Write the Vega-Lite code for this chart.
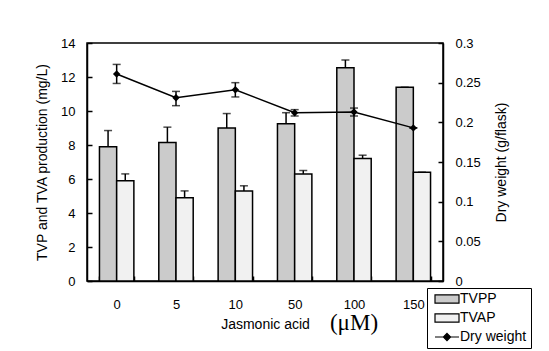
{
  "$schema": "https://vega.github.io/schema/vega-lite/v6.json",
  "width": 356,
  "height": 238,
  "autosize": {"type": "none"},
  "padding": {"left": 87, "top": 43, "right": 106, "bottom": 70},
  "background": "white",
  "title": {
    "text": "(μM)", "orient": "bottom", "anchor": "middle", "dx": 89, "offset": -37,
    "font": "Liberation Serif", "fontSize": 23, "fontWeight": "normal", "color": "black"
  },
  "config": {
    "font": "Liberation Sans",
    "view": {"stroke": "black", "strokeWidth": 1.5},
    "axis": {
      "domainColor": "black", "domainWidth": 1.5,
      "tickColor": "black", "tickWidth": 1.5,
      "labelColor": "black", "titleColor": "black",
      "labelFontSize": 13, "titleFontSize": 14, "titleFontWeight": "normal",
      "grid": false, "labelOverlap": false
    }
  },
  "datasets": {
    "bars": [
      {"conc": "0", "series": "TVPP", "value": 7.9, "upper": 8.85},
      {"conc": "0", "series": "TVAP", "value": 5.9, "upper": 6.3},
      {"conc": "5", "series": "TVPP", "value": 8.15, "upper": 9.05},
      {"conc": "5", "series": "TVAP", "value": 4.9, "upper": 5.3},
      {"conc": "10", "series": "TVPP", "value": 9.0, "upper": 9.85},
      {"conc": "10", "series": "TVAP", "value": 5.3, "upper": 5.6},
      {"conc": "50", "series": "TVPP", "value": 9.25, "upper": 9.9},
      {"conc": "50", "series": "TVAP", "value": 6.3, "upper": 6.5},
      {"conc": "100", "series": "TVPP", "value": 12.55, "upper": 13.0},
      {"conc": "100", "series": "TVAP", "value": 7.2, "upper": 7.4},
      {"conc": "150", "series": "TVPP", "value": 11.4, "upper": 11.4},
      {"conc": "150", "series": "TVAP", "value": 6.4, "upper": 6.4}
    ],
    "dry": [
      {"conc": "0", "dw": 0.261, "lo": 0.249, "hi": 0.273},
      {"conc": "5", "dw": 0.231, "lo": 0.221, "hi": 0.239},
      {"conc": "10", "dw": 0.241, "lo": 0.232, "hi": 0.25},
      {"conc": "50", "dw": 0.212, "lo": 0.208, "hi": 0.216},
      {"conc": "100", "dw": 0.213, "lo": 0.208, "hi": 0.218},
      {"conc": "150", "dw": 0.193, "lo": 0.193, "hi": 0.193}
    ]
  },
  "encoding": {
    "x": {
      "field": "conc", "type": "ordinal",
      "sort": ["0", "5", "10", "50", "100", "150"],
      "scale": {"paddingInner": 0.42, "paddingOuter": 0.21},
      "axis": {
        "title": "Jasmonic acid", "labelAngle": 0,
        "tickBand": "extent", "tickSize": -5, "labelPadding": 22,
        "titlePadding": 6
      }
    }
  },
  "layer": [
    {
      "data": {"name": "bars"},
      "encoding": {
        "y": {
          "field": "value", "type": "quantitative",
          "scale": {"domain": [0, 14]},
          "axis": {
            "title": "TVP and TVA production (mg/L)",
            "values": [0, 2, 4, 6, 8, 10, 12, 14],
            "tickSize": -5, "labelPadding": 17, "titlePadding": 11
          }
        },
        "xOffset": {"field": "series", "sort": ["TVPP", "TVAP"], "scale": {"paddingInner": 0, "paddingOuter": 0}}
      },
      "layer": [
        {
          "mark": {"type": "bar", "stroke": "black", "strokeWidth": 1.5},
          "encoding": {
            "fill": {
              "field": "series",
              "scale": {"domain": ["TVPP", "TVAP", "Dry weight"], "range": ["#cbcbcb", "#f1f1f1", "#000000"]},
              "legend": {
                "title": null, "orient": "none", "legendX": 340, "legendY": 245,
                "strokeColor": "black", "fillColor": "white", "padding": 4, "rowPadding": 5,
                "labelFontSize": 14, "labelColor": "black",
                "symbolSize": 144, "symbolStrokeColor": "black", "symbolStrokeWidth": 1.2,
                "symbolOffset": 9, "labelOffset": 6,
                "labelExpr": "datum.label + '\u00a0\u00a0\u00a0\u00a0\u00a0\u00a0\u00a0'",
                "symbolType": "M-2,-0.7H2V0.7H-2Z",
                "encode": {"symbols": {"update": {"shape": {"signal": "datum.value === 'Dry weight' ? 'M-2,0H2M0,-0.6L0.6,0L0,0.6L-0.6,0Z' : 'M-2,-0.7H2V0.7H-2Z'"}}}}
              }
            }
          }
        },
        {
          "mark": {"type": "rule", "color": "black", "strokeWidth": 1.5},
          "encoding": {"y2": {"field": "upper"}}
        },
        {
          "mark": {"type": "tick", "color": "black", "thickness": 1.5, "size": 8},
          "encoding": {"y": {"field": "upper", "type": "quantitative"}}
        }
      ]
    },
    {
      "data": {"name": "dry"},
      "encoding": {
        "y": {
          "field": "dw", "type": "quantitative",
          "scale": {"domain": [0, 0.3]},
          "axis": {
            "title": "Dry weight (g/flask)", "orient": "right",
            "values": [0, 0.05, 0.1, 0.15, 0.2, 0.25, 0.3], "format": "~g",
            "tickSize": -5, "labelPadding": 17, "titlePadding": 28, "titleAngle": 270
          }
        }
      },
      "layer": [
        {"mark": {"type": "line", "color": "black", "strokeWidth": 1.5}},
        {
          "mark": {"type": "rule", "color": "black", "strokeWidth": 1.5},
          "encoding": {"y": {"field": "lo", "type": "quantitative"}, "y2": {"field": "hi"}}
        },
        {
          "mark": {"type": "tick", "color": "black", "thickness": 1.5, "size": 8},
          "encoding": {"y": {"field": "lo", "type": "quantitative"}}
        },
        {
          "mark": {"type": "tick", "color": "black", "thickness": 1.5, "size": 8},
          "encoding": {"y": {"field": "hi", "type": "quantitative"}}
        },
        {"mark": {"type": "point", "shape": "diamond", "filled": true, "color": "black", "size": 55, "opacity": 1}}
      ]
    }
  ],
  "resolve": {"scale": {"y": "independent"}}
}
